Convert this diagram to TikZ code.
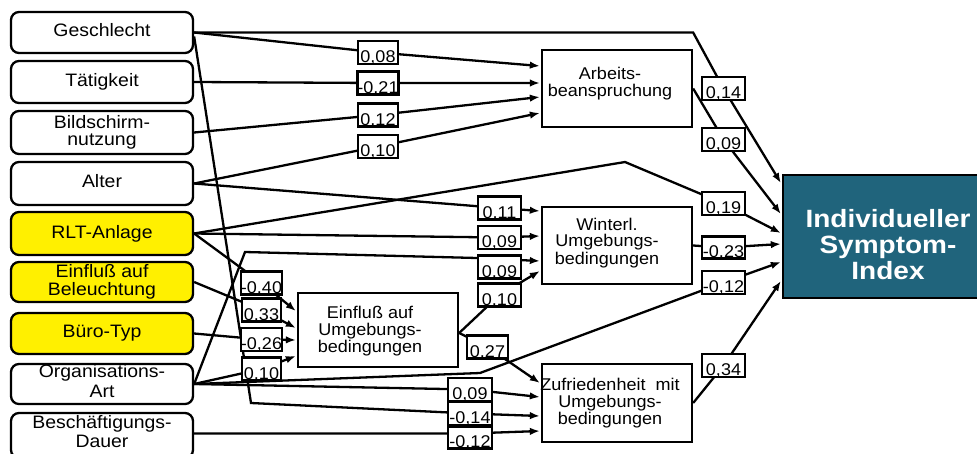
\documentclass[tikz,border=0pt]{standalone}
\usepackage{fontspec}
\setmainfont{Liberation Sans}
\newfontfamily\lftfont{Liberation Sans}[FakeStretch=1.08]
\newfontfamily\midfont{Liberation Sans}[FakeStretch=1.06]
\newfontfamily\idxfont{Liberation Sans}[FakeStretch=1.12]
\usetikzlibrary{arrows.meta,calc,backgrounds}
\definecolor{ylw}{RGB}{255,240,0}
\definecolor{idxblue}{RGB}{32,100,124}
\begin{document}
\begin{tikzpicture}[x=1pt,y=-1pt,
  leftbox/.style={draw, line width=2.3pt, rounded corners=8pt, minimum width=182pt, inner sep=0pt, align=center, fill=white, font=\lftfont\fontsize{18}{17}\selectfont},
  ybox/.style={leftbox, fill=ylw},
  midbox/.style={draw, line width=2.3pt, fill=white, minimum width=150pt, minimum height=77pt, inner sep=0pt},
  midtext/.style={align=center, inner sep=0pt, font=\midfont\fontsize{17}{17}\selectfont},
  lab/.style={draw, line width=2.3pt, fill=white, minimum width=41pt, minimum height=23pt, inner sep=0pt, text height=21pt, text depth=1pt, font=\midfont\fontsize{17}{17}\selectfont},
  conn/.style={line width=2.3pt, -{Latex[length=10pt,width=7.5pt]}},
]
\useasboundingbox (0,0) rectangle (977,453);
% left boxes
\node[leftbox, minimum height=41pt] (g) at (102,32.5) {Geschlecht\rule[-6pt]{0pt}{0pt}};
\node[leftbox, minimum height=42pt] (t) at (102,82) {Tätigkeit};
\node[leftbox, minimum height=43pt] (b) at (102,132.5) {Bildschirm-\\nutzung};
\node[leftbox, minimum height=43pt] (a) at (102,183.5) {Alter\rule[-6pt]{0pt}{0pt}};
\node[ybox, minimum height=43pt] (rlt) at (102,233.5) {RLT-Anlage};
\node[ybox, minimum height=40pt, font=\lftfont\fontsize{18}{17.5}\selectfont] (eb) at (102,282) {Einfluß auf\\Beleuchtung};
\node[ybox, minimum height=41pt] (bt) at (102,333.5) {Büro-Typ};
\node[leftbox, minimum height=40pt, font=\lftfont\fontsize{18}{20}\selectfont] (org) at (102,384) {Organisations-\\Art\rule[-7pt]{0pt}{0pt}};
\node[leftbox, minimum height=45pt, font=\lftfont\fontsize{18}{19}\selectfont] (bd) at (102,435.5) {Beschäftigungs-\\Dauer\rule[-8pt]{0pt}{0pt}};
% middle boxes
\node[midbox] (arb) at (617,88.5) {};
\node[midtext] (arbt) at (610,84.1) {Arbeits-\\beanspruchung};
\node[midbox] (win) at (617,245.5) {};
\node[midtext] (wint) at (607,242.6) {Winterl.\\Umgebungs-\\bedingungen};
\node[midbox, minimum width=160pt, minimum height=74pt] (eu) at (378,330) {};
\node[midtext] (eut) at (370,330.6) {Einfluß auf\\Umgebungs-\\bedingungen};
\node[midbox, minimum height=78pt] (zuf) at (617,403) {};
\node[midtext] (zuft) at (610,402.6) {Zufriedenheit~ mit\\Umgebungs-\\bedingungen};
% index box
\node[draw, line width=2.3pt, fill=idxblue, minimum width=212pt, minimum height=123pt, inner sep=0pt] (idx) at (889,236.5) {};
\node[align=center, inner sep=0pt, text=white, font=\idxfont\bfseries\fontsize{25}{26}\selectfont] (idxt) at (888,245) {Individueller\\Symptom-\\Index};
% labels
\node[lab, minimum width=40pt] (l008) at (378,52.5) {0,08};
\node[lab, minimum width=40pt] (l021) at (378,83) {-0,21};
\node[lab, minimum width=40pt] (l012) at (378,115) {0,12};
\node[lab, minimum width=40pt] (l010a) at (378,146.5) {0,10};
\node[lab, minimum width=43pt] (l011) at (499.5,208) {0,11};
\node[lab, minimum width=43pt] (l009w1) at (499.5,237.5) {0,09};
\node[lab, minimum width=43pt] (l009w2) at (499.5,267) {0,09};
\node[lab, minimum width=43pt] (l010w) at (499.5,295) {0,10};
\node[lab, minimum width=39pt] (l040) at (261.5,283) {-0,40};
\node[lab, minimum width=39pt] (l033) at (261.5,310) {0,33};
\node[lab, minimum width=39pt] (l026) at (261.5,339.5) {-0,26};
\node[lab, minimum width=39pt] (l010e) at (261.5,369) {0,10};
\node[lab] (l027) at (487.5,347) {0,27};
\node[lab, minimum width=44pt] (l009z) at (470,389.5) {0,09};
\node[lab, minimum width=44pt] (l014z) at (470,413.5) {-0,14};
\node[lab, minimum width=44pt, minimum height=22pt] (l012z) at (470,437.5) {-0,12};
\node[lab, minimum width=43pt] (l014i) at (723.5,88.5) {0,14};
\node[lab, minimum width=43pt] (l009i) at (723.5,139.5) {0,09};
\node[lab, minimum width=43pt] (l019) at (723.5,203.5) {0,19};
\node[lab, minimum width=43pt, minimum height=21pt] (l023) at (723.5,247.5) {-0,23};
\node[lab, minimum width=43pt] (l012i) at (723.5,282.5) {-0,12};
\node[lab, minimum width=43pt] (l034) at (723.5,365.5) {0,34};
% corner coordinates
\coordinate (gc) at (251,403);
\coordinate (oc) at (245,252);
\coordinate (oc2) at (480,373);
\coordinate (rc) at (625,162);
\begin{scope}[on background layer]
% to Arbeitsbeanspruchung
\draw[conn] (g.east) -- (l008.center) -- ($(arb.west)+(-1,-22.5)$);
\draw[conn] (t.east) -- (l021.center) -- ($(arb.west)+(-1,-5.5)$);
\draw[conn] (b.east) -- (l012.center) -- ($(arb.west)+(-1,8.5)$);
\draw[conn] (a.east) -- (l010a.center) -- ($(arb.west)+(-1,24.5)$);
% to Winterl.
\draw[conn] (a.east) -- (l011.center) -- ($(win.west)+(-1,-34.5)$);
\draw[conn] (rlt.east) -- (l009w1.center) -- ($(win.west)+(-1,-9.5)$);
\draw[conn] (org.east) -- (oc) -- ($(l009w2.west)+(0,-9)$) -- ($(win.west)+(-1,15.5)$);
\draw[conn] ($(eu.east)+(0,3)$) -- (l010w.center) -- ($(win.west)+(-1,25.5)$);
% to Einfluss auf Umgebungsbedingungen
\draw[conn] (rlt.east) -- (l040.center) -- ($(eu.west)+(-1,-19)$);
\draw[conn] (eb.east) -- (l033.center) -- ($(eu.west)+(-1,-2)$);
\draw[conn] (bt.east) -- (l026.center) -- ($(eu.west)+(-1,10)$);
\draw[conn] (org.east) -- (l010e.center) -- ($(eu.west)+(-1,26)$);
% to Zufriedenheit
\draw[conn] ($(eu.east)+(0,3)$) -- (l027.center) -- ($(zuf.west)+(-1,-20)$);
\draw[conn] (org.east) -- (l009z.center) -- ($(zuf.west)+(-1,-6)$);
\draw[conn] ($(g.east)+(0,4)$) -- (gc) -- (l014z.center) -- ($(zuf.west)+(-1,13)$);
\draw[conn] ($(bd.east)+(0,-2)$) -- ($(l012z.center)+(0,-4)$) -- ($(zuf.west)+(-1,28)$);
% to Index
\draw[conn] (g.east) -- (g.east -| arb.east) -- (l014i.center) -- ($(idx.west)+(-1,-53.5)$);
\draw[conn] (arb.east) -- (l009i.center) -- ($(idx.west)+(-1,-22.5)$);
\draw[conn] (rlt.east) -- (rc) -- (l019.center) -- ($(idx.west)+(-1,-3.5)$);
\draw[conn] (win.east) -- (l023.center) -- ($(idx.west)+(-1,7.5)$);
\draw[conn] (org.east) -- (oc2) -- (l012i.center) -- ($(idx.west)+(-1,25.5)$);
\draw[conn] (zuf.east) -- (l034.center) -- ($(idx.west)+(-1,44.5)$);
\end{scope}
\end{tikzpicture}
\end{document}
